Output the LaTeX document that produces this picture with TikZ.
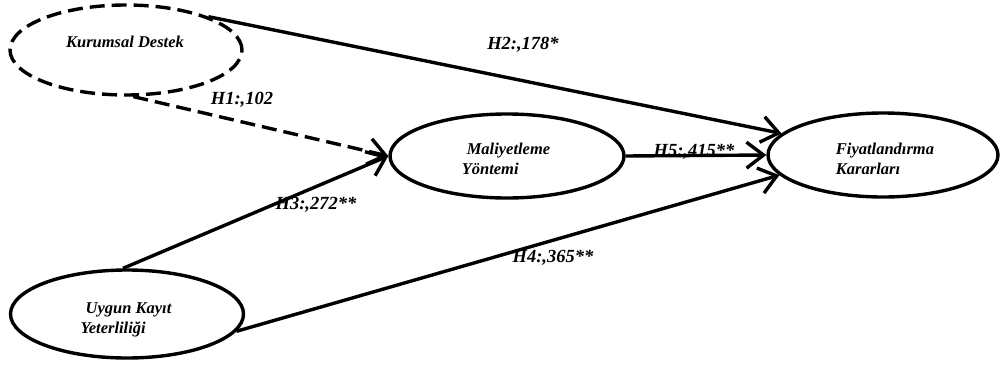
\documentclass[tikz,border=0pt]{standalone}
\usepackage{fontspec}
\setmainfont{Liberation Serif}
\usetikzlibrary{shapes.geometric,arrows.meta}
\tikzset{
  construct/.style={ellipse, draw, line width=3.4pt, inner sep=0pt},
  latentdash/.style={construct, dash pattern=on 15pt off 7pt},
  ctext/.style={font=\fontsize{16.5}{20}\selectfont\bfseries\itshape, align=left, inner sep=0pt},
  path/.style={line width=3.4pt, -{Straight Barb[length=17pt,width=26pt,line width=3.4pt]}},
  pathdash/.style={path, dash pattern=on 15pt off 7pt},
  coef/.style={font=\fontsize{18.5}{20}\selectfont\bfseries\itshape, inner sep=0pt}
}
\begin{document}
\begin{tikzpicture}[x=1pt,y=-1pt]
\useasboundingbox (0,0) rectangle (1000,364);

% constructs
\node[latentdash, minimum width=232pt, minimum height=90pt] (kd) at (126,50) {};
\node[construct, minimum width=234pt, minimum height=84pt] (my) at (507,156) {};
\node[construct, minimum width=230pt, minimum height=84pt] (fk) at (883,155) {};
\node[construct, minimum width=233pt, minimum height=88pt] (uk) at (127,314) {};

% construct names
\node[ctext] (kdT) at (125,42) {Kurumsal Destek};
\node[ctext] (myT) at (506,159) {\hspace{5pt}Maliyetleme\\Yöntemi};
\node[ctext] (fkT) at (885,159) {Fiyatlandırma\\Kararları};
\node[ctext] (ukT) at (126,320) {\hspace{5pt}Uygun Kayıt\\Yeterliliği};

% hypothesised paths
\draw[pathdash] (kd.-81) -- (my.west);
\draw[path] (kd.22) -- (fk.168);
\draw[path] (uk.95) -- (my.west);
\draw[path] (uk.-9) -- (fk.191);
\draw[path] (my.east) -- (fk.west);

% path coefficients
\node[coef] (h1) at (242,100) {H1:,102};
\node[coef] (h2) at (523,45) {H2:,178*};
\node[coef] (h3) at (316,205) {H3:,272**};
\node[coef] (h4) at (553,258) {H4:,365**};
\node[coef] (h5) at (694,152) {H5:,415**};
\end{tikzpicture}
\end{document}
